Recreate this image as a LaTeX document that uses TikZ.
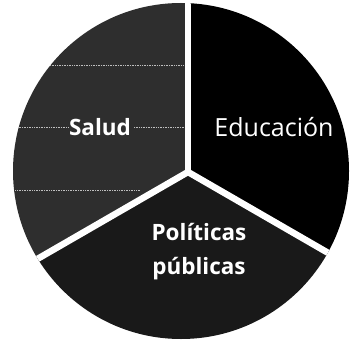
\documentclass[tikz,border=0pt]{standalone}
\usepackage{fontspec}
\setmainfont{Open Sans}
\usetikzlibrary{calc}
\tikzset{
	sector label/.style={text=white, font=\fontsize{25}{28}\selectfont, inner sep=0pt},
	sector bold/.style={sector label, font=\fontsize{22.5}{34}\selectfont\bfseries, align=center},
	divider/.style={white, line width=6.5pt},
	scan line/.style={white, line width=0.7pt, densely dotted, opacity=0.7}
}

\begin{document}
\begin{tikzpicture}[x=1pt, y=-1pt]
		%%%%% START %%%%%
		\useasboundingbox[fill=white] (0, 0) rectangle (350, 342);
		
		\coordinate (mid) at (188, 172);
		\coordinate (top) at (188, -20);
		\coordinate (left) at ($(mid)+(150:300)$);
		\coordinate (right) at ($(mid)+(30:300)$);
		
		\begin{scope}
			\clip (181, 171) circle (168);
			
			% salud
			\fill[black!82] (mid) -- (top) -- (-80, -20) -- (left) -- cycle;
			\draw[scan line] (50, 65) -- (184, 65);
			\draw[scan line] (10, 127) -- (68, 127);
			\draw[scan line] (134, 127) -- (184, 127);
			\draw[scan line] (10, 190) -- (140, 190);
			
			% educacion
			\fill[black] (mid) -- (top) -- (440, -20) -- (right) -- cycle;
			
			% politicas
			\fill[black!90] (mid) -- (left) -- (-80, 420) -- (440, 420) -- (right) -- cycle;
			
			\draw[divider] (mid) -- (top);
			\draw[divider] (mid) -- (left);
			\draw[divider] (mid) -- (right);
		\end{scope}
		
		\node[sector bold] (salud) at (100, 127) {Salud};
		\node[sector label] (educacion) at (274, 127) {Educación};
		\node[sector bold] (politicas) at (199, 252) {Políticas\\públicas};
		
		%%%%% END %%%%%
	\end{tikzpicture}
\end{document}
